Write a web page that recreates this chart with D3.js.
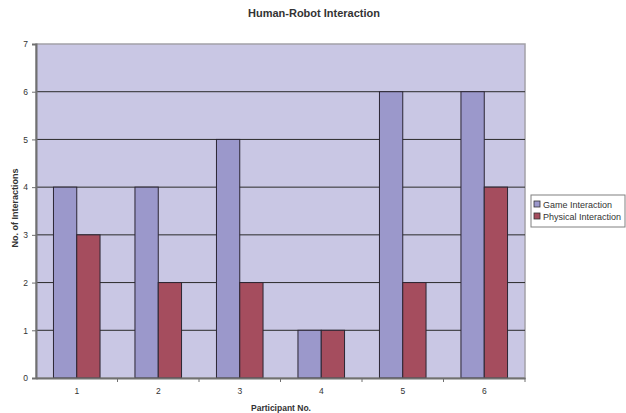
<!DOCTYPE html>
<html>
<head>
<meta charset="utf-8">
<script src="https://cdn.jsdelivr.net/npm/d3@7"></script>
<style>
  html, body { margin: 0; padding: 0; background: #fff; }
  svg { display: block; font-family: "Liberation Sans", Arial, sans-serif; }
</style>
</head>
<body>
<svg id="chart" width="626" height="413"></svg>
<script>
const participants = ["1", "2", "3", "4", "5", "6"];
const gameInteraction = [4, 4, 5, 1, 6, 6];
const physicalInteraction = [3, 2, 2, 1, 2, 4];
const seriesNames = ["Game Interaction", "Physical Interaction"];
const yTicks = [0, 1, 2, 3, 4, 5, 6, 7];

const colors = ["#9b98cb", "#a54d5e"];
const svg = d3.select("#chart");
const m = { left: 36, right: 525, top: 44, bottom: 378 };

const x = d3.scaleBand().domain(participants).range([m.left, m.right]);
const sub = d3.scaleBand().domain(seriesNames).range([0, x.bandwidth()])
  .paddingInner(0).paddingOuter(0.75);
const y = d3.scaleLinear().domain([0, 7]).range([m.bottom, m.top]);

// plot area
svg.append("rect")
  .attr("x", m.left).attr("y", m.top)
  .attr("width", m.right - m.left).attr("height", m.bottom - m.top)
  .attr("fill", "#c9c7e4").attr("stroke", "#a3a1a8").attr("stroke-width", 1.5);

// gridlines
svg.append("g").selectAll("line")
  .data(yTicks.filter(d => d > 0 && d < 7)).join("line")
  .attr("x1", m.left).attr("x2", m.right)
  .attr("y1", d => y(d)).attr("y2", d => y(d))
  .attr("stroke", "#2a2a2a").attr("stroke-width", 1);

// bars
const rows = participants.map((p, i) => ({ p, vals: [gameInteraction[i], physicalInteraction[i]] }));
const grp = svg.append("g").selectAll("g").data(rows).join("g")
  .attr("transform", d => `translate(${x(d.p)},0)`);
grp.selectAll("rect")
  .data(d => d.vals.map((v, k) => ({ name: seriesNames[k], v, k })))
  .join("rect")
  .attr("x", d => sub(d.name))
  .attr("width", sub.bandwidth())
  .attr("y", d => y(d.v))
  .attr("height", d => y(0) - y(d.v))
  .attr("fill", d => colors[d.k])
  .attr("stroke", "#2b2633").attr("stroke-width", 1);

// y axis
const yAxis = d3.axisLeft(y).tickValues(yTicks).tickSize(4).tickPadding(4)
  .tickFormat(d3.format("d"));
const gy = svg.append("g").attr("transform", `translate(${m.left},0)`).call(yAxis);
gy.select(".domain").attr("stroke", "#707070").attr("stroke-width", 2);
gy.selectAll(".tick line").attr("stroke", "#707070");
gy.selectAll(".tick text").attr("font-size", 8.5).attr("fill", "#333")
  .attr("font-family", "Liberation Sans, Arial, sans-serif");

// x axis
const xAxis = d3.axisBottom(x).tickSize(0).tickPadding(10);
const gx = svg.append("g").attr("transform", `translate(0,${m.bottom})`).call(xAxis);
gx.select(".domain").attr("stroke", "#707070").attr("stroke-width", 2);
gx.selectAll(".tick text").attr("font-size", 8.5).attr("fill", "#333")
  .attr("font-family", "Liberation Sans, Arial, sans-serif");
// category separator ticks
gx.append("g").selectAll("line")
  .data(participants.slice(1).concat(["end"])).join("line")
  .attr("x1", d => d === "end" ? m.right : x(d))
  .attr("x2", d => d === "end" ? m.right : x(d))
  .attr("y1", 0).attr("y2", 4)
  .attr("stroke", "#707070").attr("stroke-width", 1);

// titles
svg.append("text").attr("x", 314).attr("y", 17).attr("text-anchor", "middle")
  .attr("font-size", 11).attr("font-weight", "bold").attr("fill", "#333")
  .text("Human-Robot Interaction");
svg.append("text").attr("x", 281).attr("y", 411).attr("text-anchor", "middle")
  .attr("font-size", 8.5).attr("font-weight", "bold").attr("fill", "#333")
  .text("Participant No.");
svg.append("text").attr("transform", `translate(18,208) rotate(-90)`)
  .attr("text-anchor", "middle")
  .attr("font-size", 9).attr("font-weight", "bold").attr("fill", "#333")
  .text("No. of Interactions");

// legend
const lg = svg.append("g").attr("transform", "translate(531,195)");
lg.append("rect").attr("width", 94).attr("height", 32)
  .attr("fill", "#fff").attr("stroke", "#808080").attr("stroke-width", 1);
seriesNames.forEach((n, i) => {
  const row = lg.append("g").attr("transform", `translate(3,${6 + i * 12})`);
  row.append("rect").attr("width", 6).attr("height", 6)
    .attr("fill", colors[i]).attr("stroke", "#333").attr("stroke-width", 0.8);
  row.append("text").attr("x", 9).attr("y", 6.5).attr("font-size", 9).attr("fill", "#333")
    .text(n);
});
</script>
</body>
</html>
